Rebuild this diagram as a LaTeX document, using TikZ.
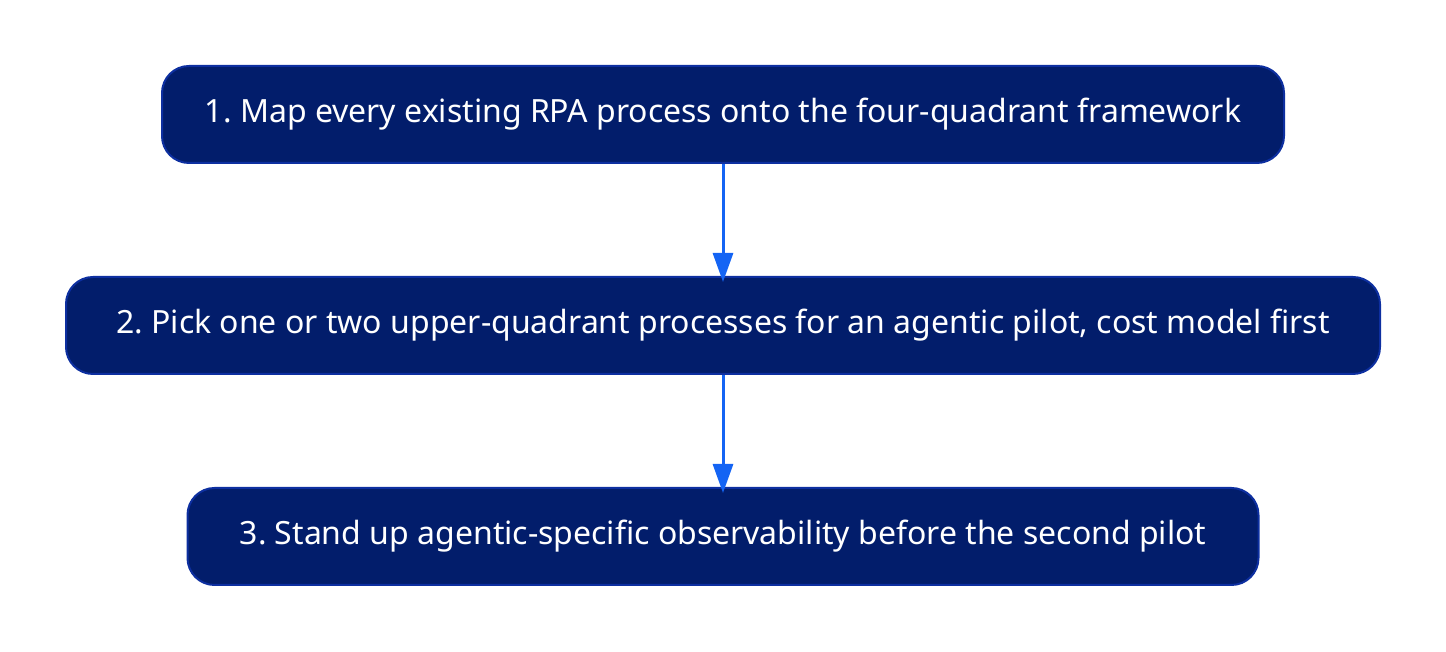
\documentclass[tikz,border=0pt]{standalone}
\usepackage{fontspec}
\setmainfont{Noto Sans}
\usetikzlibrary{arrows.meta}
\definecolor{boxfill}{HTML}{021D6B}
\definecolor{boxdraw}{HTML}{0D2FA0}
\definecolor{arrowc}{HTML}{1464F4}
\tikzset{
  stepbox/.style={draw=boxdraw, line width=2pt, fill=boxfill, rounded corners=27pt,
    minimum height=97pt, text=white, font=\fontsize{32}{38}\selectfont, inner sep=0pt},
  flow/.style={draw=arrowc, line width=3pt, -{Triangle[length=29pt,width=20pt]}, shorten >=-6pt}
}
\begin{document}
\frenchspacing
\begin{tikzpicture}[x=1pt,y=1pt]
\useasboundingbox (0,0) rectangle (1446,652);
\node[stepbox, minimum width=1122pt] (s1) at (723,537.5) {1. Map every existing RPA process onto the four-quadrant framework};
\node[stepbox, minimum width=1314pt] (s2) at (723,326.5) {2. Pick one or two upper-quadrant processes for an agentic pilot, cost model first};
\node[stepbox, minimum width=1071pt] (s3) at (723,115.5) {3. Stand up agentic-specific observability before the second pilot};
\draw[flow] (s1) -- (s2);
\draw[flow] (s2) -- (s3);
\end{tikzpicture}
\end{document}
